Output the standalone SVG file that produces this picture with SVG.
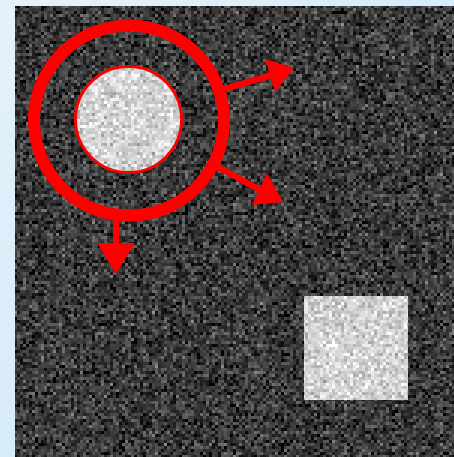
<svg xmlns="http://www.w3.org/2000/svg" width="454" height="457" viewBox="0 0 454 457">
  <defs>
    <linearGradient id="bg" x1="0" y1="0" x2="1" y2="1">
      <stop offset="0" stop-color="#e4f2fc"/>
      <stop offset="0.5" stop-color="#d8ebf8"/>
      <stop offset="1" stop-color="#e6f3fc"/>
    </linearGradient>
    <filter id="noiseDark" filterUnits="userSpaceOnUse" x="0" y="0" width="454" height="457" color-interpolation-filters="sRGB">
      <feTurbulence type="fractalNoise" baseFrequency="0.9" numOctaves="2" seed="7" result="t"/>
      <feColorMatrix in="t" type="matrix" values="0.95 0 0 0 -0.25  0.95 0 0 0 -0.25  0.95 0 0 0 -0.25  0 0 0 0 1" result="g"/>
      <feFlood x="0" y="0" width="1" height="1" flood-color="#000" flood-opacity="1"/>
      <feComposite x="0" y="0" width="3" height="3"/>
      <feTile result="dots"/>
      <feComposite in="g" in2="dots" operator="in"/>
      <feMorphology operator="dilate" radius="1" result="px"/>
      <feComposite in="px" in2="SourceAlpha" operator="in"/>
    </filter>
    <filter id="noiseLight" filterUnits="userSpaceOnUse" x="0" y="0" width="454" height="457" color-interpolation-filters="sRGB">
      <feTurbulence type="fractalNoise" baseFrequency="0.9" numOctaves="2" seed="11" result="t"/>
      <feColorMatrix in="t" type="matrix" values="0.7 0 0 0 0.48  0.7 0 0 0 0.48  0.7 0 0 0 0.48  0 0 0 0 1" result="g"/>
      <feFlood x="0" y="0" width="1" height="1" flood-color="#000" flood-opacity="1"/>
      <feComposite x="0" y="0" width="3" height="3"/>
      <feTile result="dots"/>
      <feComposite in="g" in2="dots" operator="in"/>
      <feMorphology operator="dilate" radius="1" result="px"/>
      <feComposite in="px" in2="SourceAlpha" operator="in"/>
    </filter>
    <style>
      .red { fill: #ff0000; }
      .shaft { stroke: #ff0000; stroke-width: 6; fill: none; }
    </style>
  </defs>

  <rect x="0" y="0" width="454" height="457" fill="url(#bg)"/>

  <g id="image">
    <rect x="15" y="6" width="439" height="451" fill="#3a3a3a"/>
    <rect x="15" y="6" width="439" height="451" fill="#3a3a3a" filter="url(#noiseDark)"/>
  </g>

  <g id="square">
    <rect x="304" y="296" width="104" height="104" fill="#d6d6d6"/>
    <rect x="304" y="296" width="104" height="104" fill="#d6d6d6" filter="url(#noiseLight)"/>
  </g>

  <g id="blob">
    <circle cx="128.5" cy="119.5" r="53" fill="#d6d6d6"/>
    <circle cx="128.5" cy="119.5" r="53" fill="#d6d6d6" filter="url(#noiseLight)"/>
    <circle cx="128.5" cy="119.5" r="53" fill="none" stroke="#ff0000" stroke-width="3"/>
  </g>

  <g id="ring">
    <circle cx="129" cy="120.5" r="95" fill="none" stroke="#ff0000" stroke-width="12"/>
  </g>

  <g id="connectors">
    <line class="shaft" x1="224" y1="89" x2="272" y2="75"/>
    <polygon class="red" points="294,68 265,59 275,92"/>
    <line class="shaft" x1="216" y1="166" x2="262" y2="191"/>
    <polygon class="red" points="283,202 267,173 252,205"/>
    <line class="shaft" x1="116" y1="214" x2="116" y2="246"/>
    <polygon class="red" points="116,274 97,243 135,243"/>
  </g>
</svg>
